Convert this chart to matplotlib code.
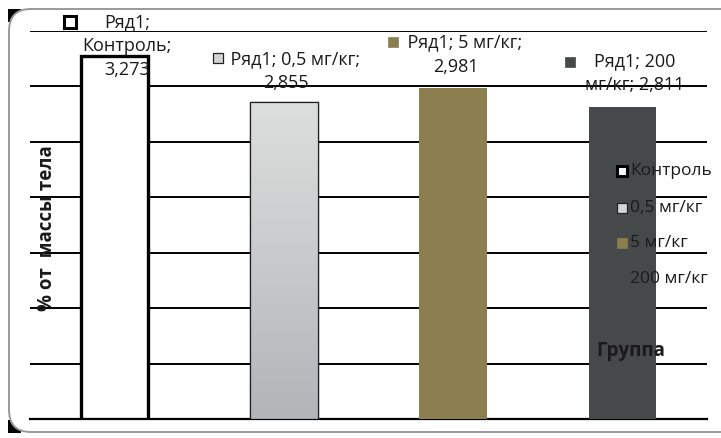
import matplotlib
matplotlib.use("Agg")
import matplotlib.pyplot as plt
import matplotlib.transforms as mtransforms
from matplotlib.patches import FancyBboxPatch, Rectangle
import numpy as np

plt.rcParams["font.family"] = ["Open Sans", "DejaVu Sans"]

# Groups and mean organ weight, % of body mass
groups = ["Контроль", "0,5 мг/кг", "5 мг/кг", "200 мг/кг"]
values = [3.273, 2.855, 2.981, 2.811]
series_name = "Ряд1"
y_label = "% от  массы тела"
legend_title = "Группа"

# Data label texts (line breaks as laid out above each bar)
label_texts = [
    "{s};\n{g};\n{v}",
    "    {s}; {g};\n{v}",
    "    {s}; {g};\n{v}",
    "{s}; 200\nмг/кг; {v}",
]

fill_colors = ["white", "#d4d6d6", "#8b7f4f", "#45494a"]
edge_colors = ["black", "#222222", "#8b7f4f", "#45494a"]
edge_widths = [2.4, 0.9, 0.0, 0.0]

W, H = 721, 438
fig = plt.figure(figsize=(W / 100, H / 100), dpi=100)
fig.patch.set_facecolor("white")

# Rounded chart frame with dark outer corners
px = fig.dpi_scale_trans
for (cx, cy) in [(0.08, 0.05), (0.08, 4.16)]:
    fig.add_artist(Rectangle((cx, cy), 0.13, 0.13, transform=px, facecolor="black",
                             edgecolor="none", zorder=0))
fig.add_artist(FancyBboxPatch((0.09, 0.06), 7.4, 4.23, boxstyle="round,pad=0,rounding_size=0.22",
                              transform=px, facecolor="white", edgecolor="#9a9a9a",
                              linewidth=1.4, zorder=1))

ax = fig.add_axes([30 / W, 1 - 419 / H, (707 - 30) / W, (419 - 30.5) / H], zorder=2)
ax.set_facecolor("none")

x = np.arange(len(groups))
bar_w = 0.4
bars = ax.bar(x, values, width=bar_w, color=fill_colors, edgecolor=edge_colors,
              linewidth=edge_widths, zorder=3)

# Vertical grey gradient on the 0,5 mg/kg bar
b = bars[1]
grad = np.linspace(0, 1, 256).reshape(-1, 1)
top_c = np.array([221, 223, 222]) / 255
bot_c = np.array([178, 181, 184]) / 255
img = top_c * (1 - grad[..., None]) + bot_c * grad[..., None]
im = ax.imshow(img, extent=[b.get_x(), b.get_x() + b.get_width(), 0, b.get_height()],
               aspect="auto", origin="upper", zorder=3.5)
im.set_clip_path(b)
ax.bar(x[1], values[1], width=bar_w, facecolor="none", edgecolor=edge_colors[1],
       linewidth=edge_widths[1], zorder=4)

ax.set_xlim(-0.5, 3.5)
ax.set_ylim(0, 3.5)
ax.set_yticks(np.arange(0, 3.51, 0.5))
ax.set_xticks([])
ax.tick_params(axis="y", left=False, labelleft=False)
ax.grid(axis="y", color="black", linewidth=1.4, zorder=1)
ax.set_axisbelow(True)
for s in ["left", "right", "top"]:
    ax.spines[s].set_visible(False)
ax.spines["bottom"].set_linewidth(1.6)

fig.text(47 / W, 1 - 228 / H, y_label, rotation=90, fontsize=13.5, fontweight="bold",
         ha="center", va="center", color="#1a1a1a", zorder=7)

# Data labels with their series key
fs = 13
label_offsets = [(9, -17), (1.5, 7), (2, 9), (9, 9)]  # points from bar top
key_offsets = [(-32, 24.5), (-47.5, 31.7), (-43, 33), (-37.4, 32.4)]
key_sizes = [8, 7, 7, 7]
key_edges = ["black", "#222222", "#8b7f4f", "#45494a"]
key_lw = [2.2, 0.9, 0.5, 0.5]
for i, (g, v) in enumerate(zip(groups, values)):
    vtxt = f"{v:.3f}".replace(".", ",")
    txt = label_texts[i].format(s=series_name, g=g, v=vtxt)
    dx, dy = label_offsets[i]
    ax.annotate(txt, (x[i], v), xytext=(dx, dy), textcoords="offset points",
                ha="center", va="bottom", fontsize=fs, color="#1a1a1a",
                linespacing=1.42, zorder=6, annotation_clip=False)
    kx, ky = key_offsets[i]
    tr = mtransforms.offset_copy(ax.transData, fig=fig, x=kx, y=ky, units="points")
    ax.plot([x[i]], [v], marker="s", markersize=key_sizes[i], markerfacecolor=fill_colors[i],
            markeredgecolor=key_edges[i], markeredgewidth=key_lw[i], transform=tr,
            clip_on=False, zorder=6, linestyle="none")

# Legend drawn at the right, over the last bar
leg_y = [171, 208, 243, 279]
for i, g in enumerate(groups):
    fig.text(630 / W, 1 - leg_y[i] / H, g, fontsize=12.5, ha="left", va="center",
             color="#1a1a1a", zorder=7)
    fig.lines.append(plt.Line2D([622 / W], [1 - leg_y[i] / H], transform=fig.transFigure,
                                marker="s", markersize=7.5, markerfacecolor=fill_colors[i],
                                markeredgecolor=key_edges[i], markeredgewidth=key_lw[i],
                                linestyle="none", zorder=7))
fig.text(631 / W, 1 - 351 / H, legend_title, fontsize=13.5, fontweight="bold",
         ha="center", va="center", color="#1a1a1a", zorder=7)

fig.savefig("out.png", dpi=100)
